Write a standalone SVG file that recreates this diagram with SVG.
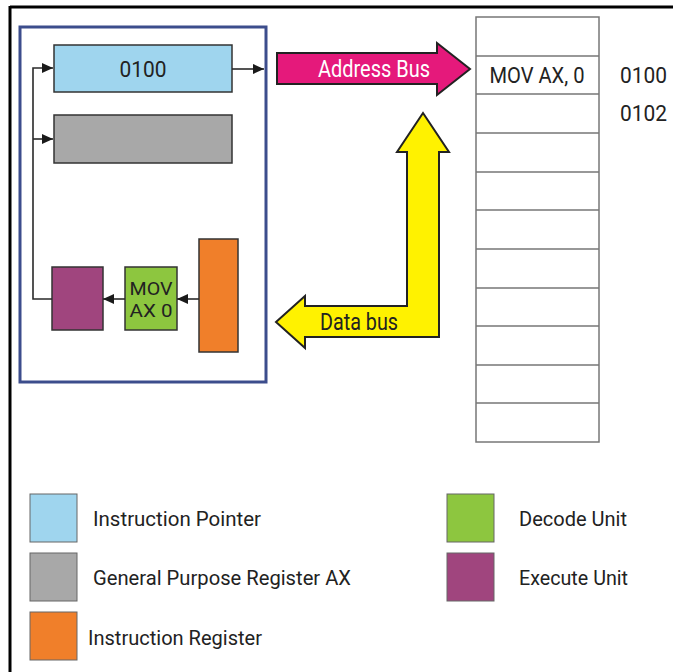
<svg xmlns="http://www.w3.org/2000/svg" width="673" height="672" viewBox="0 0 673 672">
<style>
text{font-family:Roboto,"Liberation Sans Narrow","Liberation Sans",sans-serif;}
.box{stroke:#333;stroke-width:1.5;}
.conn{fill:none;stroke:#2a2a2a;stroke-width:1.6;}
.mem{fill:#fff;stroke:#777;stroke-width:1.5;}
.lbl{font-size:22px;fill:#222;}
.dec{font-size:18.5px;fill:#222;}
.leg{font-size:21px;fill:#222;}
</style>
<defs>
<marker id="ah" markerUnits="userSpaceOnUse" markerWidth="12" markerHeight="11" refX="11" refY="5.5" orient="auto">
<path d="M0,0.5 L11,5.5 L0,10.5 z" fill="#1a1a1a"/>
</marker>
</defs>
<rect width="673" height="672" fill="#fff"/>
<g id="frame">
<line x1="10" y1="7" x2="673" y2="7" stroke="#000" stroke-width="3"/>
<line x1="10" y1="6" x2="10" y2="672" stroke="#000" stroke-width="3"/>
</g>
<g id="cpu">
<rect x="20" y="27" width="246" height="355" fill="#fff" stroke="#3c4d8c" stroke-width="3"/>
</g>
<g id="ip">
<rect class="box" x="54" y="45" width="178" height="47" fill="#9fd5ee"/>
<text class="lbl" x="143" y="77" text-anchor="middle" textLength="47" lengthAdjust="spacingAndGlyphs">0100</text>
</g>
<g id="ax">
<rect class="box" x="54" y="115" width="178" height="48" fill="#a8a8a8"/>
</g>
<g id="execute">
<rect class="box" x="52" y="267" width="51" height="63" fill="#a0457e"/>
</g>
<g id="decode">
<rect class="box" x="125" y="267" width="52" height="63" fill="#8dc63f"/>
<text class="dec" x="151" y="295" text-anchor="middle" textLength="43" lengthAdjust="spacingAndGlyphs">MOV</text>
<text class="dec" x="151" y="317" text-anchor="middle" textLength="43" lengthAdjust="spacingAndGlyphs">AX 0</text>
</g>
<g id="ir">
<rect class="box" x="199" y="239" width="39" height="113" fill="#f07f2a"/>
</g>
<g id="memory">
<rect class="mem" x="476" y="17" width="123" height="425"/>
<path d="M476 56H599M476 94H599M476 133H599M476 172H599M476 210H599M476 249H599M476 288H599M476 326H599M476 365H599M476 403H599" stroke="#777" stroke-width="1.5"/>
<text class="lbl" x="537" y="83" text-anchor="middle" textLength="95" lengthAdjust="spacingAndGlyphs">MOV AX, 0</text>
<text class="lbl" x="620" y="83" textLength="47" lengthAdjust="spacingAndGlyphs">0100</text>
<text class="lbl" x="620" y="121" textLength="47" lengthAdjust="spacingAndGlyphs">0102</text>
</g>
<g id="connectors">
<path class="conn" d="M52 299H33V68H53" marker-end="url(#ah)"/>
<path class="conn" d="M33 139H53" marker-end="url(#ah)"/>
<path class="conn" d="M232 69H264" marker-end="url(#ah)"/>
<path class="conn" d="M199 299H177" marker-end="url(#ah)"/>
<path class="conn" d="M125 299H103" marker-end="url(#ah)"/>
<g id="address-bus">
<polygon points="277,53 437,53 437,43 470,69 437,95 437,84 277,84" fill="#e5197b" stroke="#222" stroke-width="2" stroke-linejoin="miter"/>
<text x="374" y="77" text-anchor="middle" font-size="23" fill="#fff" textLength="112" lengthAdjust="spacingAndGlyphs">Address Bus</text>
</g>
<g id="data-bus">
<polygon points="423,113 449,152 439,152 439,337 305,337 305,348 276,322 305,296 305,306 407,306 407,152 397,152" fill="#fff200" stroke="#222" stroke-width="2"/>
<text x="359" y="330" text-anchor="middle" font-size="23" fill="#222" textLength="78" lengthAdjust="spacingAndGlyphs">Data bus</text>
</g>
</g>
<g id="legend">
<rect x="30" y="494" width="47" height="48" fill="#9fd5ee" stroke="#666" stroke-width="1"/>
<rect x="30" y="553" width="47" height="48" fill="#a8a8a8" stroke="#666" stroke-width="1"/>
<rect x="30" y="612" width="47" height="48" fill="#f07f2a" stroke="#666" stroke-width="1"/>
<rect x="447" y="494" width="47" height="48" fill="#8dc63f" stroke="#666" stroke-width="1"/>
<rect x="447" y="553" width="47" height="48" fill="#a0457e" stroke="#666" stroke-width="1"/>
<text class="leg" x="93" y="526" textLength="168" lengthAdjust="spacingAndGlyphs">Instruction Pointer</text>
<text class="leg" x="93" y="585" textLength="258" lengthAdjust="spacingAndGlyphs">General Purpose Register AX</text>
<text class="leg" x="88" y="645" textLength="174" lengthAdjust="spacingAndGlyphs">Instruction Register</text>
<text class="leg" x="519" y="526" textLength="108" lengthAdjust="spacingAndGlyphs">Decode Unit</text>
<text class="leg" x="519" y="585" textLength="109" lengthAdjust="spacingAndGlyphs">Execute Unit</text>
</g>
</svg>
